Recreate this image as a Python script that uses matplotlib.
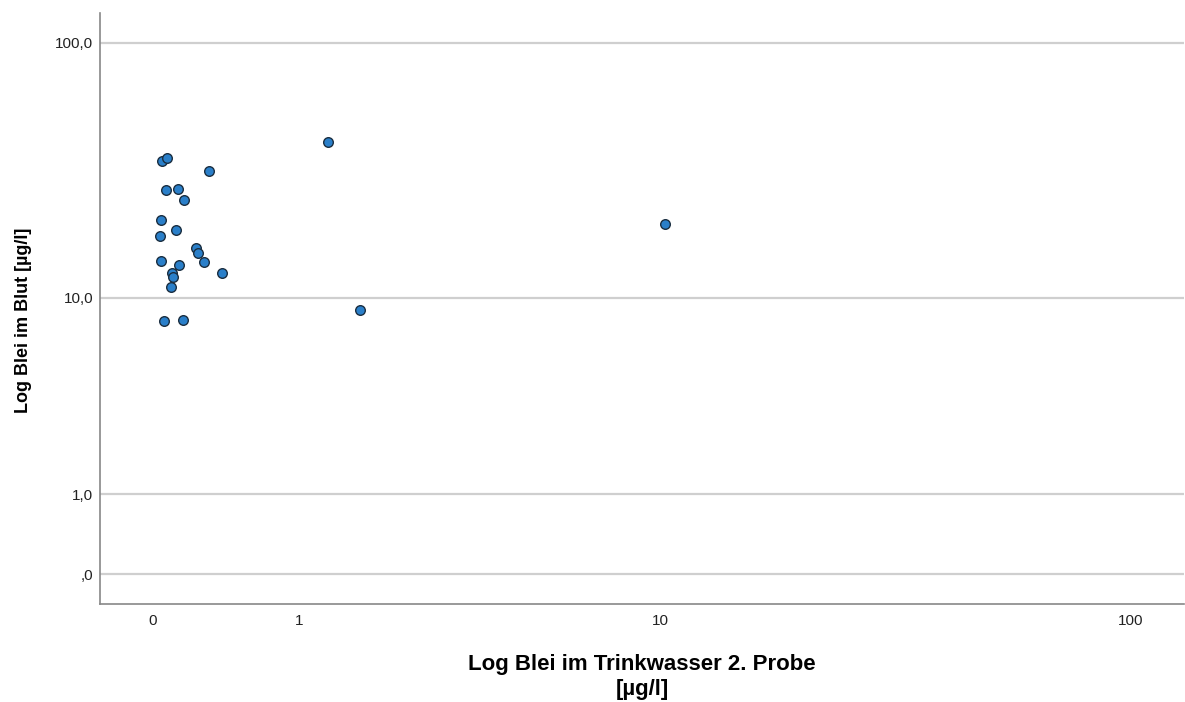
import matplotlib.pyplot as plt
import numpy as np

plt.rcParams['font.family'] = ['Liberation Sans', 'DejaVu Sans']

# Log Blei im Trinkwasser 2. Probe [µg/l]
wasser = [0.047, 0.075, 0.305, 0.067, 0.127, 0.164, 0.042, 0.120, 0.037, 0.230,
          0.242, 0.279, 0.042, 0.133, 0.388, 0.098, 0.103, 0.094, 0.058, 0.154,
          1.287, 1.665, 10.25]
# Log Blei im Blut [µg/l]
blut = [35.1, 36.0, 32.1, 27.1, 27.4, 24.7, 20.6, 18.9, 17.8, 15.9,
        15.3, 14.0, 14.2, 13.6, 12.7, 12.7, 12.2, 11.1, 8.0, 8.1,
        41.7, 8.9, 19.9]

x_ticks = [0, 1, 10, 100]
x_labels = ['0', '1', '10', '100']
y_ticks = [0, 1, 10, 100]
y_labels = [',0', '1,0', '10,0', '100,0']


# SPSS-style log scale that allows zero: log10(v + 1)
def fwd(v):
    return np.log10(np.asarray(v, dtype=float) + 1)


def inv(v):
    return 10 ** np.asarray(v, dtype=float) - 1


fig = plt.figure(figsize=(11.85, 7.02), dpi=100)
ax = fig.add_axes([0.0844, 0.1396, 0.9146, 0.8424])
ax.set_xscale('function', functions=(fwd, inv))
ax.set_yscale('function', functions=(fwd, inv))

ax.scatter(wasser, blut, s=48, color='#2a7fc9', edgecolor='#1a2e40',
           linewidth=1.0, zorder=3)

ax.set_xlim(-0.218, 128.7)
ax.set_ylim(-0.229, 130)
ax.set_xticks(x_ticks)
ax.set_xticklabels(x_labels)
ax.set_yticks(y_ticks)
ax.set_yticklabels(y_labels)
ax.minorticks_off()
ax.tick_params(length=0, labelsize=11, colors='#222222')
ax.tick_params(axis='x', pad=7)
ax.tick_params(axis='y', pad=5)

ax.grid(axis='y', color='#cfcfcf', linewidth=1.6)
ax.set_axisbelow(True)
for side in ['top', 'right']:
    ax.spines[side].set_visible(False)
for side in ['left', 'bottom']:
    ax.spines[side].set_color('#888888')
    ax.spines[side].set_linewidth(1.2)

ax.set_xlabel('Log Blei im Trinkwasser 2. Probe\n[µg/l]', fontsize=16,
              fontweight='bold', linespacing=1.25)
ax.xaxis.set_label_coords(0.5, -0.084)
ax.set_ylabel('Log Blei im Blut [µg/l]', fontsize=13, fontweight='bold')
ax.yaxis.set_label_coords(-0.063, 0.48)

fig.savefig('out.png', dpi=100)
